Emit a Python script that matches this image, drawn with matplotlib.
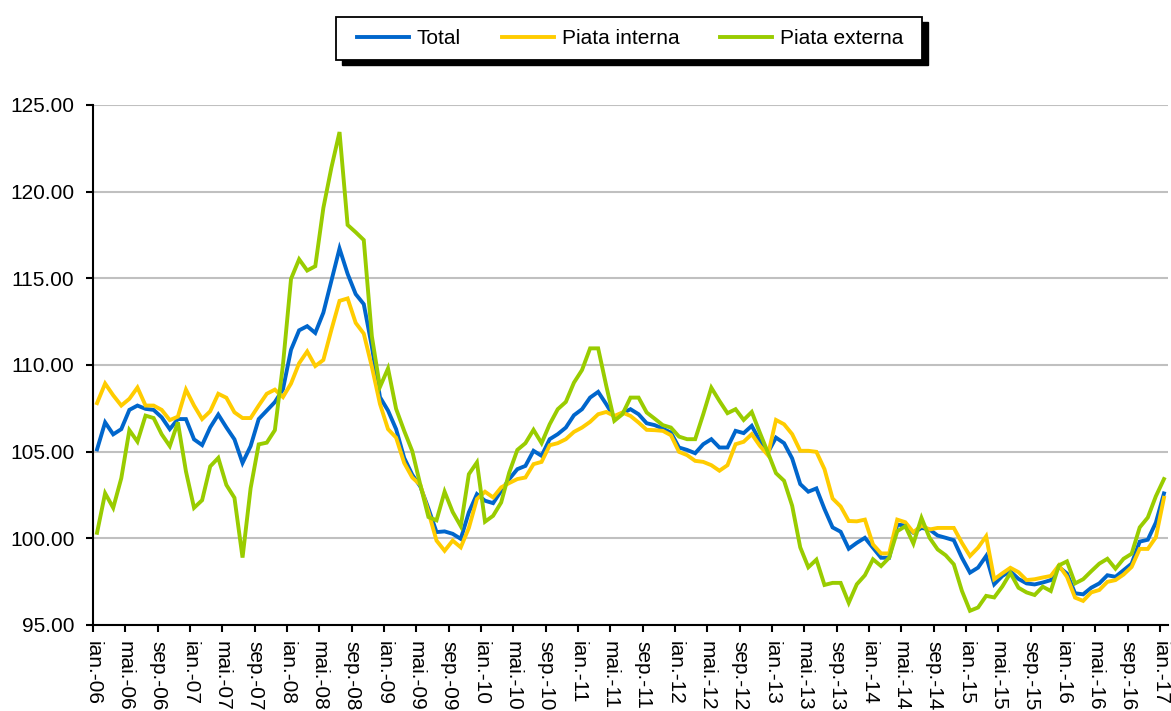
import matplotlib
matplotlib.use("Agg")
import matplotlib.pyplot as plt
from matplotlib.patches import Rectangle
import numpy as np

plt.rcParams['font.family'] = ['Liberation Sans', 'DejaVu Sans']

total = [105.13, 106.69, 106.0, 106.3, 107.41, 107.66, 107.47, 107.41, 106.98, 106.3, 106.88, 106.88,
         105.71, 105.38, 106.4, 107.14, 106.4, 105.71, 104.35, 105.32, 106.88, 107.37, 107.86, 108.6,
         110.88, 112.0, 112.24, 111.85, 113.02, 114.87, 116.72, 115.26, 114.09, 113.51, 111.07, 108.15,
         107.37, 106.3, 104.64, 103.67, 102.99, 101.72, 100.36, 100.4, 100.26, 99.97, 101.5, 102.55,
         102.17, 102.03, 102.74, 103.42, 103.99, 104.18, 105.05, 104.76, 105.72, 106.01, 106.39, 107.1,
         107.45, 108.12, 108.45, 107.74, 106.97, 107.22, 107.45, 107.16, 106.64, 106.53, 106.33, 106.1,
         105.24, 105.1, 104.91, 105.43, 105.72, 105.24, 105.24, 106.2, 106.07, 106.49, 105.62, 104.95,
         105.81, 105.49, 104.61, 103.13, 102.69, 102.88, 101.69, 100.63, 100.38, 99.4, 99.74, 100.03,
         99.46, 98.88, 98.88, 100.79, 100.74, 100.32, 100.6, 100.51, 100.16, 100.03, 99.89, 98.88,
         98.02, 98.31, 98.98, 97.35, 97.83, 98.1, 97.66, 97.4, 97.34, 97.45, 97.59, 98.35,
         97.97, 96.83, 96.77, 97.15, 97.4, 97.87, 97.78, 98.16, 98.54, 99.81, 99.92, 100.91,
         102.59]

piata_interna = [107.8, 108.93, 108.25, 107.66, 108.05, 108.7, 107.66, 107.66, 107.41, 106.82, 107.02, 108.58,
                 107.66, 106.88, 107.33, 108.34, 108.11, 107.27, 106.94, 106.94, 107.66, 108.34, 108.58, 108.15,
                 108.93, 110.1, 110.78, 109.94, 110.29, 112.04, 113.7, 113.84, 112.43, 111.81, 109.9, 107.76,
                 106.3, 105.81, 104.35, 103.51, 103.08, 101.52, 99.87, 99.28, 99.87, 99.48, 100.6, 102.27,
                 102.69, 102.36, 102.94, 103.19, 103.42, 103.51, 104.28, 104.41, 105.37, 105.49, 105.72, 106.14,
                 106.39, 106.72, 107.16, 107.29, 107.06, 107.26, 107.06, 106.68, 106.26, 106.24, 106.2, 105.95,
                 104.99, 104.8, 104.47, 104.41, 104.22, 103.9, 104.22, 105.43, 105.57, 106.01, 105.34, 104.8,
                 106.83, 106.58, 106.01, 105.05, 105.05, 104.99, 103.99, 102.3, 101.84, 101.0, 100.98, 101.08,
                 99.65, 99.13, 99.13, 101.08, 100.93, 100.35, 100.74, 100.51, 100.6, 100.6, 100.6, 99.74,
                 98.98, 99.46, 100.12, 97.64, 97.98, 98.3, 98.05, 97.59, 97.64, 97.74, 97.83, 98.44,
                 97.78, 96.58, 96.39, 96.88, 97.02, 97.49, 97.59, 97.91, 98.35, 99.39, 99.39, 100.06,
                 102.34]

piata_externa = [100.32, 102.6, 101.76, 103.47, 106.24, 105.58, 107.08, 106.94, 106.0, 105.32, 106.69, 103.86,
                 101.76, 102.2, 104.15, 104.64, 103.08, 102.34, 98.89, 102.89, 105.42, 105.52, 106.24, 110.0,
                 114.97, 116.1, 115.45, 115.7, 119.06, 121.4, 123.44, 118.08, 117.66, 117.21, 111.66, 108.73,
                 109.8, 107.47, 106.2, 105.03, 103.08, 101.23, 101.04, 102.69, 101.52, 100.7, 103.7, 104.38,
                 100.96, 101.3, 102.07, 103.8, 105.1, 105.49, 106.26, 105.49, 106.58, 107.45, 107.87, 108.98,
                 109.71, 110.96, 110.96, 108.8, 106.78, 107.16, 108.12, 108.12, 107.26, 106.9, 106.53, 106.39,
                 105.87, 105.72, 105.72, 107.16, 108.69, 107.93, 107.22, 107.45, 106.83, 107.29, 106.1, 104.95,
                 103.76, 103.32, 101.88, 99.48, 98.33, 98.77, 97.31, 97.43, 97.43, 96.28, 97.35, 97.87,
                 98.79, 98.4, 98.88, 100.41, 100.7, 99.7, 101.18, 100.03, 99.36, 99.02, 98.5, 96.97,
                 95.82, 96.01, 96.68, 96.59, 97.22, 98.0, 97.15, 96.88, 96.73, 97.21, 96.96, 98.44,
                 98.67, 97.4, 97.64, 98.1, 98.54, 98.82, 98.25, 98.82, 99.11, 100.63, 101.2, 102.43,
                 103.42]

month_names = ['ian.', 'feb.', 'mar.', 'apr.', 'mai.', 'iun.', 'iul.', 'aug.', 'sep.', 'oct.', 'nov.', 'dec.']
years = list(range(2006, 2018))
series_names = ['Total', 'Piata interna', 'Piata externa']
colors = ['#0066CC', '#FFCC00', '#99CC00']

n = len(total)
categories = [f"{month_names[k % 12]}-{str(years[k // 12])[2:]}" for k in range(n)]
x = np.arange(n) + 0.5

W, H = 1171, 711
fig = plt.figure(figsize=(W / 100, H / 100), dpi=100)
ax = fig.add_axes([93 / W, 1 - 625 / H, (1168 - 93) / W, (625 - 105) / H])

for vals, name, c in zip([total, piata_interna, piata_externa], series_names, colors):
    ax.plot(x, vals, color=c, lw=2.8, label=name, solid_joinstyle='miter')

ax.set_xlim(0, n)
ax.set_ylim(95, 125)
ax.set_yticks(np.arange(95, 126, 5))
ax.set_yticklabels([f"{v:.2f}" for v in np.arange(95, 126, 5)])
ax.yaxis.grid(True, color='#c0c0c0', lw=1.5)
ax.set_axisbelow(True)

tick_pos = np.arange(0, n, 4)
ax.set_xticks(tick_pos)
ax.set_xticklabels([categories[k] for k in tick_pos], rotation=-90, va='top', ha='center')

for s in ['top', 'right']:
    ax.spines[s].set_visible(False)
for s in ['left', 'bottom']:
    ax.spines[s].set_linewidth(1.5)
    ax.spines[s].set_color('black')
ax.tick_params(axis='both', labelsize=15, width=1.5, length=5, direction='out', color='black')
ax.tick_params(axis='y', pad=8.5)
ax.tick_params(axis='x', pad=6.5)

# legend box with shadow
bx0, bx1, by0, by1 = 336, 922, 17, 60
fig.patches.append(Rectangle(((bx0 + 6) / W, 1 - (by1 + 5) / H), (bx1 - bx0) / W, (by1 - by0) / H,
                             transform=fig.transFigure, facecolor='black', edgecolor='black', zorder=3))
fig.patches.append(Rectangle((bx0 / W, 1 - by1 / H), (bx1 - bx0) / W, (by1 - by0) / H,
                             transform=fig.transFigure, facecolor='white', edgecolor='black', lw=1.3, zorder=4))
handles, labels = ax.get_legend_handles_labels()
leg = fig.legend(handles, labels, loc='center', bbox_to_anchor=((bx0 + bx1) / 2 / W + 1 / W, 1 - (by0 + by1) / 2 / H),
                 ncol=3, frameon=False, fontsize=15, handlelength=2.5, handletextpad=0.38,
                 columnspacing=1.95)
leg.set_zorder(6)

fig.savefig('out.png', dpi=100)
